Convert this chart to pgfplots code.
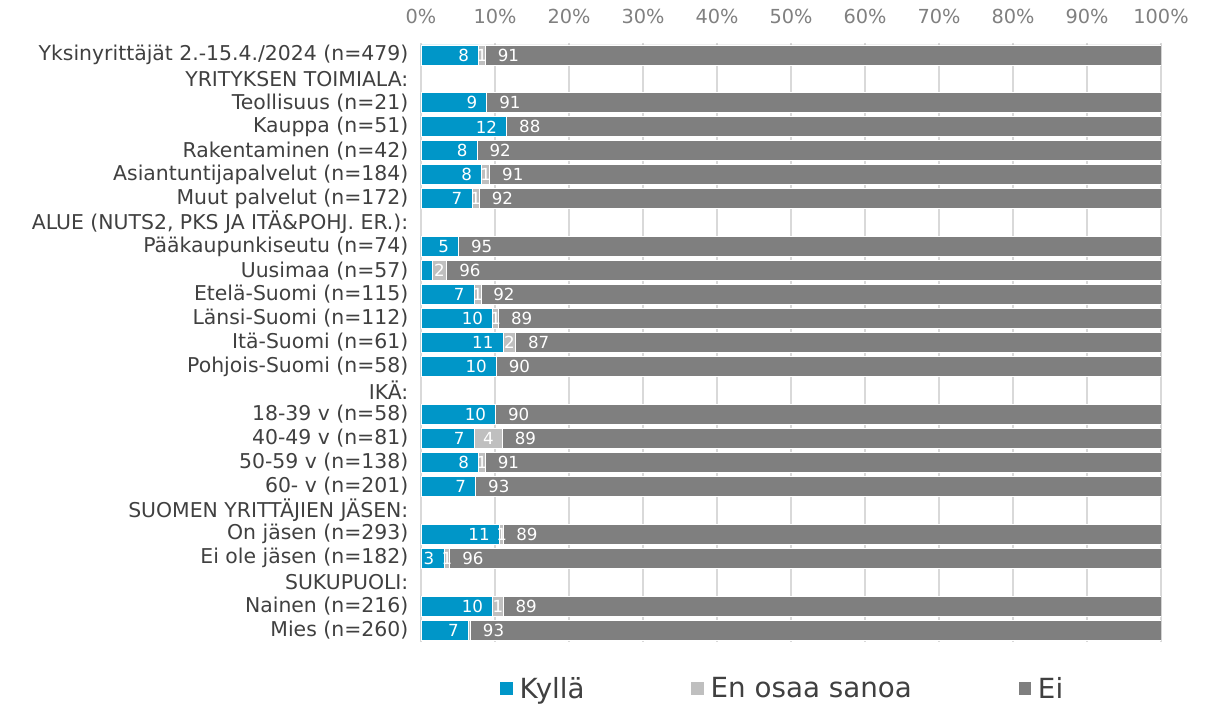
\documentclass[border=0pt]{standalone}
\usepackage{pgfplots}
\pgfplotsset{compat=1.18}
\usepackage{fontspec}
\setmainfont{DejaVu Sans}
\definecolor{cblue}{HTML}{0096C8}
\definecolor{clight}{HTML}{BFBFBF}
\definecolor{cdark}{HTML}{7F7F7F}
\definecolor{ctext}{HTML}{404040}
\definecolor{ctick}{HTML}{808080}
\definecolor{cgrid}{HTML}{D9D9D9}
\begin{document}
\begin{tikzpicture}
\begin{axis}[
  scale only axis, width=555pt, height=449.25pt,
  xbar stacked, bar width=15pt,
  xmin=0, xmax=100, ymin=-0.5, ymax=24.5, y dir=reverse,
  axis line style={draw=none},
  major tick length=0pt,
  xtick={0,10,...,100},
  xticklabel={\pgfmathprintnumber{\tick}\%},
  xticklabel pos=upper,
  /pgf/number format/assume math mode=true,
  xticklabel style={font=\fontsize{14.5}{17}\selectfont, text=ctick, yshift=11pt},
  xmajorgrids, major grid style={cgrid, line width=0.9pt},
  ytick={0,...,24},
  yticklabels={
    Yksinyrittäjät 2.-15.4./2024 (n=479),
    YRITYKSEN TOIMIALA:,
    Teollisuus (n=21),
    Kauppa (n=51),
    Rakentaminen (n=42),
    Asiantuntijapalvelut (n=184),
    Muut palvelut (n=172),
    {ALUE (NUTS2, PKS JA ITÄ\&POHJ. ER.):},
    Pääkaupunkiseutu (n=74),
    Uusimaa (n=57),
    Etelä-Suomi (n=115),
    Länsi-Suomi (n=112),
    Itä-Suomi (n=61),
    Pohjois-Suomi (n=58),
    IKÄ:,
    18-39 v (n=58),
    40-49 v (n=81),
    50-59 v (n=138),
    60- v (n=201),
    SUOMEN YRITTÄJIEN JÄSEN:,
    On jäsen (n=293),
    Ei ole jäsen (n=182),
    SUKUPUOLI:,
    Nainen (n=216),
    Mies (n=260)},
  yticklabel style={font=\fontsize{15.3}{18}\selectfont, text=ctext, xshift=-6pt},
  point meta=explicit symbolic,
  visualization depends on={rawx \as \rx},
  legend style={at={(0.5,0)}, anchor=north, yshift=-22pt, xshift=-6pt, draw=none,
    legend columns=-1, font=\fontsize{20.8}{24}\selectfont, text=ctext,
    /tikz/every odd column/.append style={column sep=3pt},
    /tikz/every even column/.append style={column sep=78pt}},
  legend image code/.code={\fill[#1, draw=none] (0pt,-4.8pt) rectangle (9.6pt,4.8pt);},
]
\addplot[fill=cblue, draw=white, line width=0.6pt, nodes near coords,
  every node near coord/.append style={anchor=east, xshift=\rx*2.775pt-6pt, text=white, inner sep=1pt, font=\fontsize{12.5}{14}\selectfont}]
coordinates {(7.8,0)[8] (8.9,2)[9] (11.6,3)[12] (7.6,4)[8] (8.2,5)[8] (6.9,6)[7]
 (5.1,8)[5] (1.5,9)[] (7.2,10)[7] (9.7,11)[10] (11.1,12)[11] (10.2,13)[10]
 (10.1,15)[10] (7.2,16)[7] (7.8,17)[8] (7.4,18)[7] (10.6,20)[11] (3.1,21)[3]
 (9.7,23)[10] (6.4,24)[7]};
\addlegendentry{Kyllä}
\addplot[fill=clight, draw=white, line width=0.6pt, nodes near coords,
  every node near coord/.append style={anchor=center, text=white, inner sep=0pt, font=\fontsize{12.5}{14}\selectfont}]
coordinates {(0.9,0)[1] (0,2)[] (0,3)[] (0,4)[] (1.1,5)[1] (1.0,6)[1]
 (0,8)[] (2.0,9)[2] (0.9,10)[1] (0.8,11)[1] (1.7,12)[2] (0,13)[]
 (0,15)[] (3.8,16)[4] (0.9,17)[1] (0,18)[] (0.6,20)[1] (0.8,21)[1]
 (1.4,23)[1] (0.3,24)[]};
\addlegendentry{En osaa sanoa}
\addplot[fill=cdark, draw=white, line width=0.6pt, nodes near coords,
  every node near coord/.append style={anchor=west, xshift=-\rx*2.775pt+8pt, text=white, inner sep=1pt, font=\fontsize{12.5}{14}\selectfont}]
coordinates {(91.3,0)[91] (91.1,2)[91] (88.4,3)[88] (92.4,4)[92] (90.7,5)[91] (92.1,6)[92]
 (94.9,8)[95] (96.5,9)[96] (91.9,10)[92] (89.5,11)[89] (87.2,12)[87] (89.8,13)[90]
 (89.9,15)[90] (89.0,16)[89] (91.3,17)[91] (92.6,18)[93] (88.8,20)[89] (96.1,21)[96]
 (88.9,23)[89] (93.3,24)[93]};
\addlegendentry{Ei}
\end{axis}
\pgfresetboundingbox
\path[use as bounding box] (-315.75pt,-50.25pt) rectangle (598.5pt,481.5pt);
\end{tikzpicture}
\end{document}
